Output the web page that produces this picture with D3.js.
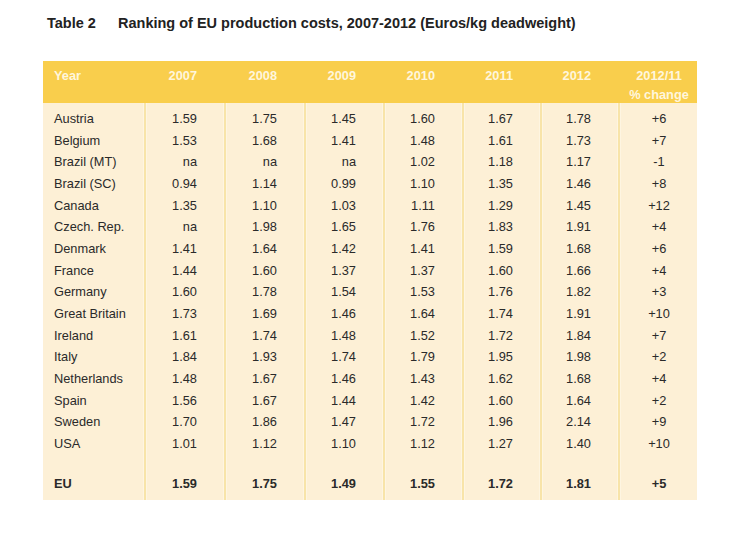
<!DOCTYPE html>
<html><head><meta charset="utf-8">
<script src="https://cdn.jsdelivr.net/npm/d3@7/dist/d3.min.js"></script>
<style>body{margin:0;background:#fff;} svg{display:block;font-family:"Liberation Sans",Arial,sans-serif;}</style>
</head><body>
<script>
const years = ["2007","2008","2009","2010","2011","2012"];
const countries = ["Austria","Belgium","Brazil (MT)","Brazil (SC)","Canada","Czech. Rep.","Denmark","France","Germany","Great Britain","Ireland","Italy","Netherlands","Spain","Sweden","USA"];
const v2007 = ["1.59","1.53","na","0.94","1.35","na","1.41","1.44","1.60","1.73","1.61","1.84","1.48","1.56","1.70","1.01"];
const v2008 = ["1.75","1.68","na","1.14","1.10","1.98","1.64","1.60","1.78","1.69","1.74","1.93","1.67","1.67","1.86","1.12"];
const v2009 = ["1.45","1.41","na","0.99","1.03","1.65","1.42","1.37","1.54","1.46","1.48","1.74","1.46","1.44","1.47","1.10"];
const v2010 = ["1.60","1.48","1.02","1.10","1.11","1.76","1.41","1.37","1.53","1.64","1.52","1.79","1.43","1.42","1.72","1.12"];
const v2011 = ["1.67","1.61","1.18","1.35","1.29","1.83","1.59","1.60","1.76","1.74","1.72","1.95","1.62","1.60","1.96","1.27"];
const v2012 = ["1.78","1.73","1.17","1.46","1.45","1.91","1.68","1.66","1.82","1.91","1.84","1.98","1.68","1.64","2.14","1.40"];
const change = ["+6","+7","-1","+8","+12","+4","+6","+4","+3","+10","+7","+2","+4","+2","+9","+10"];
const euRow = ["1.59","1.75","1.49","1.55","1.72","1.81","+5"];

const W = 746, H = 547;
const svg = d3.select("body").append("svg").attr("width", W).attr("height", H);

// title
svg.append("text").attr("x",47).attr("y",28).attr("font-size",14.5).attr("font-weight","bold").attr("fill","#222").text("Table 2");
svg.append("text").attr("x",118).attr("y",28).attr("font-size",14.5).attr("font-weight","bold").attr("fill","#222").text("Ranking of EU production costs, 2007-2012 (Euros/kg deadweight)");

const left = 43, right = 697, headTop = 61, headBot = 103, bodyBot = 500;
const colEdges = [left,145,225,305,384,463,541,619,right];
const fs = 12.8;

svg.append("rect").attr("x",left).attr("y",headTop).attr("width",right-left).attr("height",headBot-headTop).attr("fill","#F9CE4C");
svg.append("rect").attr("x",left).attr("y",headBot).attr("width",right-left).attr("height",bodyBot-headBot).attr("fill","#FDF0D6");

// separators
colEdges.slice(1,-1).forEach(x=>{
  svg.append("rect").attr("x",x-1.5).attr("y",headBot).attr("width",3).attr("height",bodyBot-headBot).attr("fill","#FFF9EC");
  svg.append("rect").attr("x",x-0.5).attr("y",headBot).attr("width",1).attr("height",bodyBot-headBot).attr("fill","#F2D067");
});

const rowY = d3.scalePoint().domain(countries).range([123,448]);
const hdrCol = "#FFF6DC";

// header
svg.append("text").attr("x",54).attr("y",80).attr("font-size",fs).attr("font-weight","bold").attr("fill",hdrCol).text("Year");
years.forEach((y,i)=>{
  svg.append("text").attr("x",colEdges[i+2]-28).attr("y",80).attr("text-anchor","end").attr("font-size",fs).attr("font-weight","bold").attr("fill",hdrCol).text(y);
});
const cx = (colEdges[7]+colEdges[8])/2 + 1;
svg.append("text").attr("x",cx).attr("y",80).attr("text-anchor","middle").attr("font-size",fs).attr("font-weight","bold").attr("fill",hdrCol).text("2012/11");
svg.append("text").attr("x",cx).attr("y",99).attr("text-anchor","middle").attr("font-size",fs).attr("font-weight","bold").attr("fill",hdrCol).text("% change");

const series = [v2007,v2008,v2009,v2010,v2011,v2012];
const txtCol = "#2a2a2a";
countries.forEach((c,r)=>{
  const y = rowY(c);
  svg.append("text").attr("x",54).attr("y",y).attr("font-size",fs).attr("fill",txtCol).text(c);
  series.forEach((s,i)=>{
    svg.append("text").attr("x",colEdges[i+2]-28).attr("y",y).attr("text-anchor","end").attr("font-size",fs).attr("fill",txtCol).text(s[r]);
  });
  svg.append("text").attr("x",cx).attr("y",y).attr("text-anchor","middle").attr("font-size",fs).attr("fill",txtCol).text(change[r]);
});

// EU row
const euY = 488;
svg.append("text").attr("x",54).attr("y",euY).attr("font-size",fs).attr("font-weight","bold").attr("fill",txtCol).text("EU");
euRow.slice(0,6).forEach((v,i)=>{
  svg.append("text").attr("x",colEdges[i+2]-28).attr("y",euY).attr("text-anchor","end").attr("font-size",fs).attr("font-weight","bold").attr("fill",txtCol).text(v);
});
svg.append("text").attr("x",cx).attr("y",euY).attr("text-anchor","middle").attr("font-size",fs).attr("font-weight","bold").attr("fill",txtCol).text(euRow[6]);
</script>
</body></html>
